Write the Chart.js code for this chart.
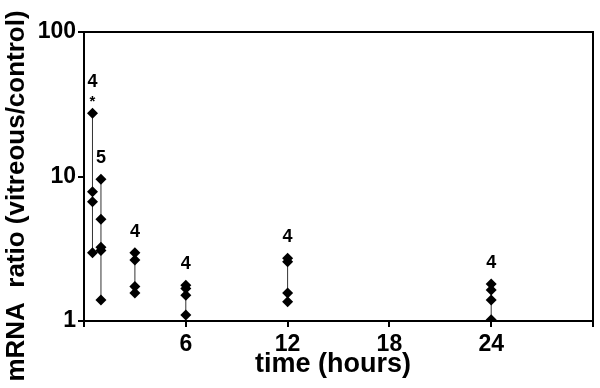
<!DOCTYPE html>
<html>
<head>
<meta charset="utf-8">
<script src="https://cdn.jsdelivr.net/npm/chart.js@4"></script>
<style>
  body { margin: 0; background: #fff; }
</style>
</head>
<body>
<canvas id="chart" width="600" height="388"></canvas>
<script>
// sampling times (hours) and n per group
var times = [0.5, 1, 3, 6, 12, 24];
var counts = ['4', '5', '4', '4', '4', '4'];
// mRNA ratios, one list per time point
var g05 = [27.4, 7.85, 6.69, 2.97];
var g1 = [9.56, 5.06, 3.24, 3.07, 1.40];
var g3 = [2.97, 2.64, 1.73, 1.56];
var g6 = [1.77, 1.68, 1.51, 1.10];
var g12 = [2.72, 2.57, 1.56, 1.36];
var g24 = [1.80, 1.64, 1.40, 1.02];
var groups = [g05, g1, g3, g6, g12, g24];
var yTicks = [1, 10, 100];
var xTicks = [0, 6, 12, 18, 24, 30];
var xLabels = ['', '6', '12', '18', '24', ''];
var xTitle = 'time (hours)';
var yTitle = 'mRNA  ratio (vitreous/control)';
var FONT = '"Liberation Sans", Arial, sans-serif';

var datasets = [];
for (var i = 0; i < groups.length; i++) {
  var pts = groups[i].slice().sort(function(a, b) { return a - b; }).map(function(v) {
    return {x: times[i], y: v};
  });
  datasets.push({
    data: pts,
    showLine: true,
    borderColor: '#333',
    borderWidth: 1,
    pointStyle: 'rectRot',
    pointRadius: 5.5,
    pointBackgroundColor: '#000',
    pointBorderColor: '#000',
    pointBorderWidth: 0
  });
}

// top + right sides of the box, and the two axis titles
var frame = {
  id: 'frame',
  afterDraw: function(chart) {
    var a = chart.chartArea, c = chart.ctx;
    c.save();
    c.strokeStyle = '#000';
    c.lineWidth = 2;
    c.beginPath();
    c.moveTo(a.left, a.top);
    c.lineTo(a.right, a.top);
    c.lineTo(a.right, a.bottom);
    c.stroke();

    c.fillStyle = '#000';
    c.textAlign = 'center';
    c.textBaseline = 'middle';
    c.font = 'bold 27px ' + FONT;
    c.fillText(xTitle, 333, 365);
    c.translate(17, 196);
    c.rotate(-Math.PI / 2);
    c.font = 'bold 26px ' + FONT;
    c.fillText(yTitle, 0, 0);
    c.restore();
  }
};

var nLabels = {
  id: 'nLabels',
  afterDatasetsDraw: function(chart) {
    var c = chart.ctx, xs = chart.scales.x, ys = chart.scales.y;
    c.save();
    c.fillStyle = '#000';
    c.textAlign = 'center';
    c.textBaseline = 'middle';
    for (var i = 0; i < groups.length; i++) {
      var px = xs.getPixelForValue(times[i]);
      var py = ys.getPixelForValue(Math.max.apply(null, groups[i]));
      c.font = 'bold 18px ' + FONT;
      if (i === 0) {
        c.fillText(counts[i], px, py - 31);
        c.font = 'bold 15px ' + FONT;
        c.fillText('*', px, py - 11);
      } else {
        c.fillText(counts[i], px, py - 21);
      }
    }
    c.restore();
  }
};

new Chart(document.getElementById('chart'), {
  type: 'scatter',
  data: { datasets: datasets },
  options: {
    responsive: false,
    animation: false,
    devicePixelRatio: 1,
    layout: { padding: { left: 0, right: 7, top: 32, bottom: 0 } },
    plugins: { legend: { display: false }, tooltip: { enabled: false } },
    scales: {
      x: {
        type: 'linear',
        min: 0,
        max: 30,
        afterBuildTicks: function(s) { s.ticks = xTicks.map(function(v) { return {value: v}; }); },
        afterFit: function(s) { s.height = 67; },
        grid: { drawOnChartArea: false, color: '#000', lineWidth: 2, tickLength: 6 },
        border: { color: '#000', width: 2 },
        ticks: {
          color: '#000',
          padding: 4,
          maxRotation: 0,
          autoSkip: false,
          font: { family: FONT, size: 23, weight: 'bold' },
          callback: function(v, idx) { return xLabels[idx]; }
        }
      },
      y: {
        type: 'logarithmic',
        min: 1,
        max: 100,
        afterBuildTicks: function(s) { s.ticks = yTicks.map(function(v) { return {value: v}; }); },
        afterFit: function(s) { s.width = 84; },
        grid: { drawOnChartArea: false, color: '#000', lineWidth: 2, tickLength: 6 },
        border: { color: '#000', width: 2 },
        ticks: {
          color: '#000',
          padding: 2,
          autoSkip: false,
          font: { family: FONT, size: 23, weight: 'bold' },
          callback: function(v) { return String(v); }
        }
      }
    }
  },
  plugins: [frame, nLabels]
});
</script>
</body>
</html>
